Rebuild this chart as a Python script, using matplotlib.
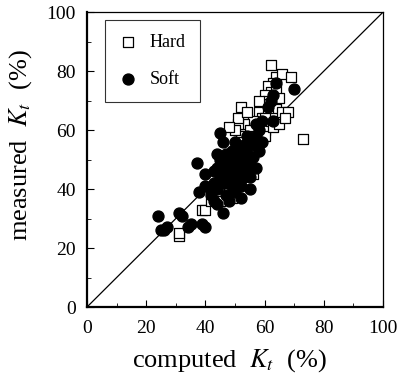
import matplotlib
matplotlib.use("Agg")
import matplotlib.pyplot as plt
from matplotlib.ticker import MultipleLocator

plt.rcParams['font.family'] = ['Liberation Serif', 'DejaVu Serif']
plt.rcParams['mathtext.fontset'] = 'stix'

# Hard (open squares): computed Kt, measured Kt (%)
hard_x = [62, 64, 66, 69, 63, 61, 62, 64, 60, 61, 63, 65, 59, 60, 62, 64, 58, 59, 61, 63,
          66, 68, 56, 57, 59, 60, 53, 55, 52, 54, 56, 58, 60, 51, 50, 53, 55, 57, 62, 63,
          65, 67, 73, 51, 56, 49, 48, 46, 44, 50, 53, 47, 55, 57, 52, 39, 40, 31, 31, 45,
          42, 52, 51, 48, 58, 60, 54]
hard_y = [82, 78, 79, 78, 76, 75, 73, 74, 72, 70, 70, 71, 69, 67, 68, 67, 66, 64, 65, 64,
          66, 66, 63, 61, 62, 60, 62, 60, 58, 57, 58, 59, 58, 62, 60, 55, 54, 56, 63, 61,
          62, 64, 57, 56, 45, 37, 40, 42, 38, 48, 50, 50, 52, 53, 46, 33, 33, 24, 25, 36,
          36, 68, 64, 61, 70, 64, 66]

# Soft (filled circles)
soft_x = [24, 25, 26, 27, 31, 32, 34, 35, 39, 40, 38, 40, 40, 37, 42, 43, 44, 46, 42,
          43, 44, 45, 46, 44, 45, 46, 46, 47, 47, 48, 48, 48, 49, 49, 49, 50, 50, 50, 50,
          51, 51, 51, 52, 52, 52, 53, 53, 53, 54, 54, 54, 55, 55, 56, 56, 57, 57, 58, 58,
          59, 47, 45, 44, 43, 52, 55, 59, 61, 62, 63, 64, 63, 70, 57]
soft_y = [31, 26, 26, 27, 32, 31, 27, 28, 28, 27, 39, 41, 45, 49, 38, 36, 35, 32, 40,
          46, 47, 59, 56, 52, 44, 42, 48, 38, 45, 50, 43, 36, 41, 47, 53, 45, 39, 51, 56,
          43, 48, 53, 41, 47, 51, 44, 49, 55, 46, 52, 58, 48, 44, 51, 55, 47, 58, 53, 60,
          56, 52, 50, 40, 42, 37, 40, 63, 68, 70, 72, 76, 63, 74, 62]

fig = plt.figure(figsize=(4.0, 3.8), dpi=100)
ax = fig.add_axes([0.2175, 0.192, 0.74, 0.776])

ax.plot([0, 100], [0, 100], color='black', lw=0.9, zorder=1)
ax.scatter(hard_x, hard_y, marker='s', s=62, facecolors='white', edgecolors='black',
           linewidths=0.9, zorder=2, label='Hard')
ax.scatter(soft_x, soft_y, marker='o', s=62, color='black', zorder=3, label='Soft')

ax.set_xlim(0, 100)
ax.set_ylim(0, 100)
ax.xaxis.set_major_locator(MultipleLocator(20))
ax.yaxis.set_major_locator(MultipleLocator(20))
ax.xaxis.set_minor_locator(MultipleLocator(10))
ax.yaxis.set_minor_locator(MultipleLocator(10))
ax.tick_params(which='both', direction='in', top=False, right=False, labelsize=14)
ax.tick_params(which='major', length=5, width=0.8)
ax.tick_params(which='minor', length=3, width=0.6)
ax.tick_params(axis='x', pad=9)
ax.tick_params(axis='y', pad=8)
for s in ['left', 'bottom']:
    ax.spines[s].set_linewidth(1.6)
for s in ['top', 'right']:
    ax.spines[s].set_linewidth(0.9)

ax.set_xlabel(r'computed  $K_t$  (%)', fontsize=19)
ax.set_ylabel(r'measured  $K_t$  (%)', fontsize=19)
ax.xaxis.set_label_coords(0.48, -0.135)
ax.yaxis.set_label_coords(-0.18, 0.55)

leg = ax.legend(loc='upper left', bbox_to_anchor=(0.06, 0.975), fontsize=13,
                frameon=True, fancybox=False, edgecolor='black', labelspacing=1.1,
                borderpad=0.8, handletextpad=0.7, handlelength=1.0, borderaxespad=0)
leg.get_frame().set_linewidth(0.8)

fig.savefig('out.png', dpi=100)
